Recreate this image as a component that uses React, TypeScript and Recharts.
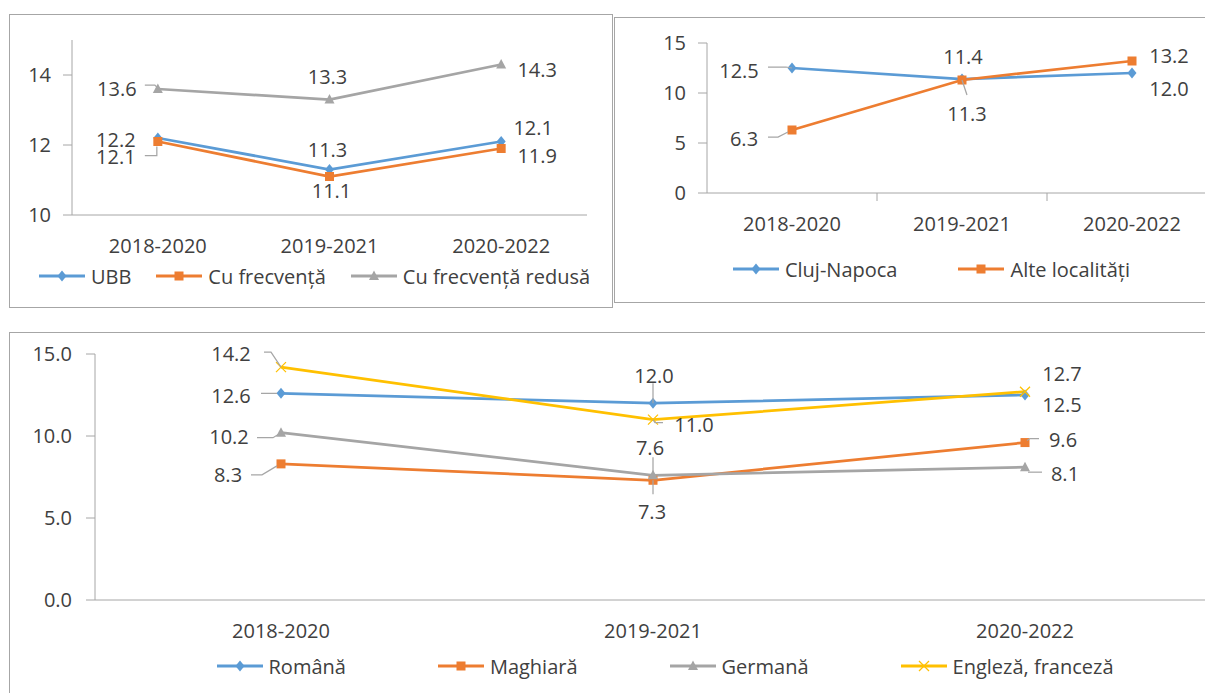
import { LineChart, Line, XAxis, YAxis, Legend } from 'recharts'

const periods = ['2018-2020', '2019-2021', '2020-2022']

// grafic 1 - UBB / forma de invatamant
const ubb = [12.2, 11.3, 12.1]
const cuFrecventa = [12.1, 11.1, 11.9]
const cuFrecventaRedusa = [13.6, 13.3, 14.3]
const ticks1 = [10, 12, 14]

// grafic 2 - localitate
const clujNapoca = [12.5, 11.4, 12.0]
const alteLocalitati = [6.3, 11.3, 13.2]
const ticks2 = [0, 5, 10, 15]

// grafic 3 - linia de studiu
const romana = [12.6, 12.0, 12.5]
const maghiara = [8.3, 7.3, 9.6]
const germana = [10.2, 7.6, 8.1]
const englezaFranceza = [14.2, 11.0, 12.7]
const ticks3 = [0, 5, 10, 15]

const data1 = periods.map((p, i) => ({ period: p, ubb: ubb[i], cf: cuFrecventa[i], cfr: cuFrecventaRedusa[i] }))
const data2 = periods.map((p, i) => ({ period: p, cluj: clujNapoca[i], alte: alteLocalitati[i] }))
const data3 = periods.map((p, i) => ({ period: p, ro: romana[i], hu: maghiara[i], de: germana[i], en: englezaFranceza[i] }))

const BLUE = '#5B9BD5'
const ORANGE = '#ED7D31'
const GRAY = '#A5A5A5'
const YELLOW = '#FFC000'
const TEXT = '#404040'
const AXIS = '#A6A6A6'
const FONT = 20
const X_MARGIN = 24

type Shape = 'diamond' | 'square' | 'triangle' | 'x'
type Place = { dx: number; dy: number; leader?: [number, number][] }

const shapes: Record<string, Shape> = {
  ubb: 'diamond', cf: 'square', cfr: 'triangle',
  cluj: 'diamond', alte: 'square',
  ro: 'diamond', hu: 'square', de: 'triangle', en: 'x',
}

// legend order = series order
const seriesOrder = ['ubb', 'cf', 'cfr', 'cluj', 'alte', 'ro', 'hu', 'de', 'en']

// label placement next to each point (pixels, relative to the point)
const places: Record<string, Place[]> = {
  ubb: [{ dx: -42, dy: 1 }, { dx: -2, dy: -20 }, { dx: 32, dy: -14 }],
  cf: [{ dx: -42, dy: 15, leader: [[-13, 14], [-1, 14], [-1, 5]] }, { dx: 2, dy: 14 }, { dx: 36, dy: 7 }],
  cfr: [{ dx: -41, dy: -1, leader: [[-13, -4], [-3, -4], [0, -1]] }, { dx: -2, dy: -23 }, { dx: 36, dy: 5 }],
  cluj: [{ dx: -53, dy: 2, leader: [[-24, -1], [-6, -1], [0, 0]] }, { dx: 1, dy: -23 }, { dx: 37, dy: 15 }],
  alte: [{ dx: -48, dy: 8, leader: [[-24, 7], [-14, 7], [-4, 2]] }, { dx: 5, dy: 33, leader: [[0, 0], [5, 15]] }, { dx: 37, dy: -6 }],
  ro: [{ dx: -50, dy: 2, leader: [[-20, 0], [-4, 0]] }, { dx: 1, dy: -28, leader: [[0, -20], [0, 0]] }, { dx: 37, dy: 9 }],
  hu: [{ dx: -53, dy: 11, leader: [[-30, 11], [-19, 11], [-4, 2]] }, { dx: -1, dy: 31, leader: [[0, 0], [0, 14]] }, { dx: 38, dy: -3, leader: [[2, -2], [5, -4], [14, -4]] }],
  de: [{ dx: -52, dy: 4, leader: [[-24, 5], [-8, 5], [0, 0]] }, { dx: -3, dy: -28, leader: [[0, -18], [0, 0]] }, { dx: 40, dy: 6, leader: [[3, 5], [17, 5]] }],
  en: [{ dx: -50, dy: -13.5, leader: [[-17, -15], [-10, -15], [0, 0]] }, { dx: 41, dy: 5, leader: [[0, 0], [2, 3], [10, 3]] }, { dx: 37, dy: -18 }],
}

function Marker({ shape, cx, cy, color }: { shape: Shape; cx: number; cy: number; color: string }) {
  if (shape === 'diamond') return <path d={`M${cx},${cy - 5.5}L${cx + 4.5},${cy}L${cx},${cy + 5.5}L${cx - 4.5},${cy}Z`} fill={color} />
  if (shape === 'square') return <rect x={cx - 4.5} y={cy - 4.5} width={9} height={9} fill={color} />
  if (shape === 'triangle') return <path d={`M${cx},${cy - 5.5}L${cx + 5},${cy + 4}L${cx - 5},${cy + 4}Z`} fill={color} />
  return <path d={`M${cx - 5},${cy - 5}L${cx + 5},${cy + 5}M${cx + 5},${cy - 5}L${cx - 5},${cy + 5}`} stroke={color} strokeWidth={1.25} fill="none" />
}

const dotFor = (key: string, color: string) => (p: any) =>
  <Marker key={`${key}-${p.index}`} shape={shapes[key]} cx={p.cx} cy={p.cy} color={color} />

const labelFor = (key: string) => (p: any) => {
  const pl = places[key][p.index]
  const x = Number(p.x)
  const y = Number(p.y)
  return (
    <g key={`${key}-lbl-${p.index}`}>
      {pl.leader && (
        <polyline points={pl.leader.map(([a, b]) => `${x + a},${y + b}`).join(' ')} fill="none" stroke={AXIS} strokeWidth={1.25} />
      )}
      <text x={x + pl.dx} y={y + pl.dy} textAnchor="middle" dominantBaseline="central" fontSize={FONT} fill={TEXT}>
        {Number(p.value).toFixed(1)}
      </text>
    </g>
  )
}

// category label plus a small tick mark on the right boundary of its band
const boundaryTick = (p: any) => {
  const axisY = p.y - X_MARGIN
  const half = Number(p.payload?.offset) || Number(p.width) / periods.length / 2 || 0
  const bx = p.x + half
  return (
    <g>
      <line x1={bx} x2={bx} y1={axisY} y2={axisY + 8} stroke={AXIS} strokeWidth={1} />
      <text x={p.x} y={p.y} dy="0.71em" textAnchor="middle" fontSize={FONT} fill={TEXT}>{p.payload?.value}</text>
    </g>
  )
}

const legendContent = (gap: number, shift: number) => (props: any) => {
  const items = [...(props.payload || [])].sort(
    (a: any, b: any) => seriesOrder.indexOf(a.dataKey) - seriesOrder.indexOf(b.dataKey),
  )
  return (
    <div style={{ display: 'flex', justifyContent: 'center', alignItems: 'center', height: 24, gap, paddingLeft: shift }}>
      {items.map((e: any) => (
        <div key={e.dataKey} style={{ display: 'flex', alignItems: 'center' }}>
          <svg width={46} height={14}>
            <line x1={0} y1={7} x2={46} y2={7} stroke={e.color} strokeWidth={3} />
            <Marker shape={shapes[e.dataKey]} cx={23} cy={7} color={e.color} />
          </svg>
          <span style={{ marginLeft: 6, fontSize: FONT, color: TEXT, whiteSpace: 'nowrap' }}>{e.value}</span>
        </div>
      ))}
    </div>
  )
}

const tickStyle = { fontSize: FONT, fill: TEXT }

const boxStyle = (left: number, top: number, width: number, height: number) => ({
  position: 'absolute' as const, left, top, width, height, boxSizing: 'border-box' as const,
  border: `1px solid ${AXIS}`,
})

export default function App() {
  return (
    <div style={{ position: 'absolute', left: 0, top: 0, width: 1205, height: 693, overflow: 'hidden', background: '#fff', fontFamily: "'Open Sans', sans-serif" }}>
      {/* grafic 1 */}
      <div style={boxStyle(9, 14, 604, 294)}>
        <LineChart width={602} height={292} data={data1} margin={{ top: 25, right: 25, bottom: 28, left: 0 }}>
          <XAxis dataKey="period" scale="band" tick={tickStyle} tickLine={false} tickSize={0} tickMargin={X_MARGIN} height={40} axisLine={{ stroke: AXIS }} />
          <YAxis domain={[10, 15]} ticks={ticks1} width={62} tick={tickStyle} tickSize={9} tickMargin={12} axisLine={{ stroke: AXIS }} tickLine={{ stroke: AXIS }} />
          <Legend content={legendContent(25, 7)} wrapperStyle={{ top: 249, left: 0, width: 602 }} />
          <Line name="UBB" dataKey="ubb" stroke={BLUE} strokeWidth={2.75} dot={dotFor('ubb', BLUE)} label={labelFor('ubb')} isAnimationActive={false} />
          <Line name="Cu frecvență" dataKey="cf" stroke={ORANGE} strokeWidth={2.75} dot={dotFor('cf', ORANGE)} label={labelFor('cf')} isAnimationActive={false} />
          <Line name="Cu frecvență redusă" dataKey="cfr" stroke={GRAY} strokeWidth={2.75} dot={dotFor('cfr', GRAY)} label={labelFor('cfr')} isAnimationActive={false} />
        </LineChart>
      </div>

      {/* grafic 2 */}
      <div style={boxStyle(614, 17, 635, 286)}>
        <LineChart width={633} height={284} data={data2} margin={{ top: 25, right: 31, bottom: 45, left: 0 }}>
          <XAxis dataKey="period" scale="band" tick={boundaryTick} tickLine={false} tickSize={0} tickMargin={X_MARGIN} height={40} axisLine={{ stroke: AXIS }} />
          <YAxis domain={[0, 15]} ticks={ticks2} width={92} tick={tickStyle} tickSize={9} tickMargin={12} axisLine={{ stroke: AXIS }} tickLine={{ stroke: AXIS }} />
          <Legend content={legendContent(61, 0)} wrapperStyle={{ top: 239, left: 0, width: 633 }} />
          <Line name="Cluj-Napoca" dataKey="cluj" stroke={BLUE} strokeWidth={2.75} dot={dotFor('cluj', BLUE)} label={labelFor('cluj')} isAnimationActive={false} />
          <Line name="Alte localități" dataKey="alte" stroke={ORANGE} strokeWidth={2.75} dot={dotFor('alte', ORANGE)} label={labelFor('alte')} isAnimationActive={false} />
        </LineChart>
      </div>

      {/* grafic 3 */}
      <div style={boxStyle(9, 332, 1312, 400)}>
        <LineChart width={1310} height={360} data={data3} margin={{ top: 21, right: 109, bottom: 29, left: 0 }}>
          <XAxis dataKey="period" scale="band" tick={tickStyle} tickLine={false} tickSize={0} tickMargin={X_MARGIN} height={40} axisLine={{ stroke: AXIS }} />
          <YAxis domain={[0, 15]} ticks={ticks3} width={85} tick={tickStyle} tickFormatter={(v: number) => v.toFixed(1)} tickSize={9} tickMargin={14} axisLine={{ stroke: AXIS }} tickLine={{ stroke: AXIS }} />
          <Legend content={legendContent(92, 0)} wrapperStyle={{ top: 321, left: 0, width: 1310 }} />
          <Line name="Română" dataKey="ro" stroke={BLUE} strokeWidth={2.75} dot={dotFor('ro', BLUE)} label={labelFor('ro')} isAnimationActive={false} />
          <Line name="Maghiară" dataKey="hu" stroke={ORANGE} strokeWidth={2.75} dot={dotFor('hu', ORANGE)} label={labelFor('hu')} isAnimationActive={false} />
          <Line name="Germană" dataKey="de" stroke={GRAY} strokeWidth={2.75} dot={dotFor('de', GRAY)} label={labelFor('de')} isAnimationActive={false} />
          <Line name="Engleză, franceză" dataKey="en" stroke={YELLOW} strokeWidth={2.75} dot={dotFor('en', YELLOW)} label={labelFor('en')} isAnimationActive={false} />
        </LineChart>
      </div>
    </div>
  )
}
